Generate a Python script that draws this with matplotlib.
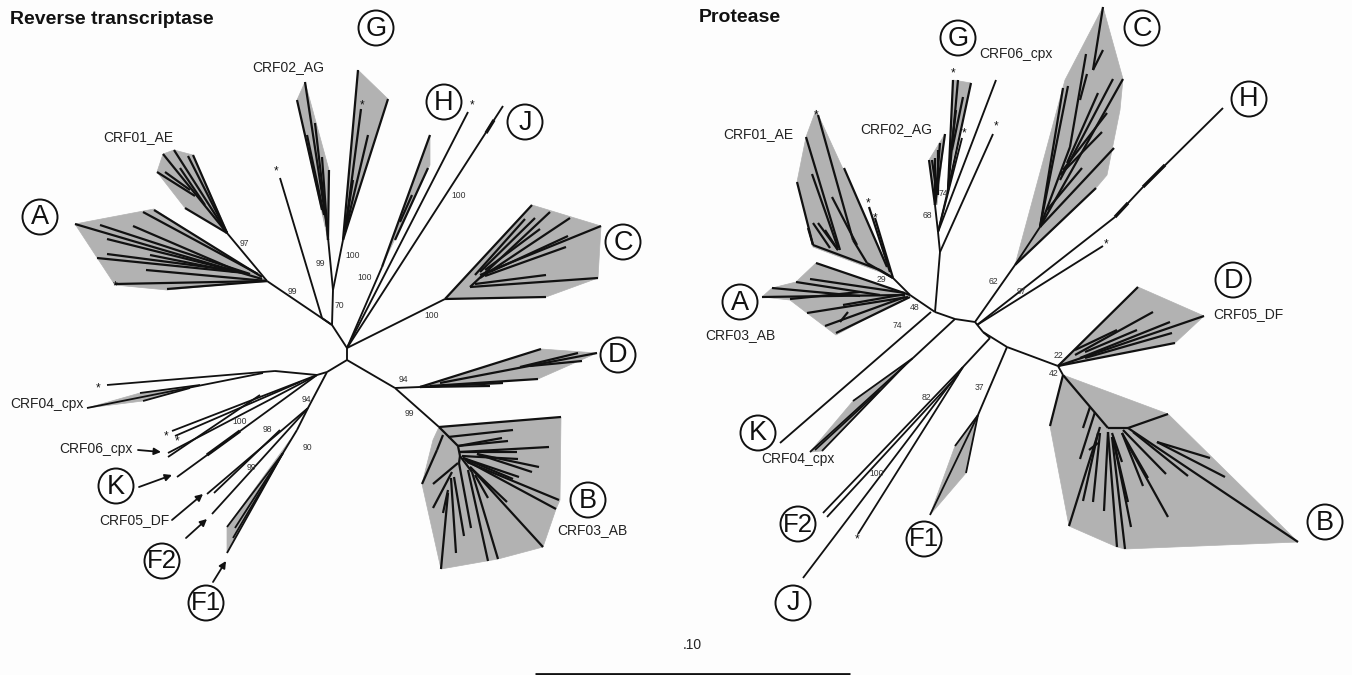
import matplotlib
matplotlib.use('Agg')
import matplotlib.pyplot as plt
from matplotlib.patches import Circle

plt.rcParams['font.family'] = ['Liberation Sans', 'DejaVu Sans']

SHADE = '#b2b2b2'
INK = '#111111'

# ---- Reverse transcriptase ----
rt_stems = [(347, 348, 347, 360), (347, 348, 332, 325), (332, 325, 267, 281), (267, 281, 227, 233),
            (332, 325, 333, 290), (333, 290, 327, 227), (333, 290, 343, 240), (322, 318, 280, 178),
            (332, 325, 322, 318), (347, 348, 382, 267), (347, 348, 468, 112), (347, 348, 503, 106),
            (347, 348, 445, 299), (347, 360, 395, 388), (395, 388, 439, 427), (395, 388, 420, 387),
            (347, 360, 327, 372), (327, 372, 317, 375), (317, 375, 275, 371), (327, 372, 308, 408),
            (308, 408, 297, 430), (297, 430, 283, 453)]
rt_thick = [(494, 120, 486, 133)]
rt_a = [(262, 279, 75, 224), (250, 274, 100, 225), (235, 271, 107, 239), (240, 272, 133, 226),
        (258, 274, 143, 212), (262, 277, 154, 210), (245, 273, 97, 258), (230, 270, 107, 254),
        (235, 272, 150, 255), (267, 281, 146, 270), (267, 281, 115, 284), (267, 281, 167, 289)]
rt_crf01 = [(227, 233, 163, 154), (227, 233, 174, 150), (227, 233, 193, 155), (227, 233, 188, 156),
            (195, 196, 157, 172), (190, 190, 165, 172), (205, 205, 180, 168), (227, 233, 185, 208)]
rt_crf02 = [(327, 227, 305, 82), (322, 210, 297, 100), (327, 227, 315, 123), (324, 215, 307, 135),
            (328, 240, 322, 157), (328, 240, 329, 170)]
rt_g = [(343, 240, 358, 70), (343, 240, 388, 99), (345, 232, 361, 109), (346, 228, 368, 135),
        (345, 230, 353, 180)]
rt_h = [(382, 267, 430, 135), (395, 240, 428, 168), (400, 222, 412, 195)]
rt_c = [(445, 299, 532, 205), (470, 287, 550, 212), (480, 278, 570, 218), (480, 275, 601, 226),
        (490, 272, 568, 236), (485, 276, 566, 247), (470, 287, 598, 278), (475, 284, 546, 275),
        (445, 299, 546, 297), (475, 275, 525, 219), (480, 272, 535, 218), (485, 270, 540, 229)]
rt_d = [(420, 387, 541, 349), (440, 383, 597, 353), (520, 367, 578, 353), (530, 366, 582, 361),
        (430, 386, 538, 379), (420, 387, 503, 383), (420, 387, 490, 386)]
rt_b = [(439, 427, 561, 417), (439, 427, 458, 446), (458, 446, 460, 456), (448, 437, 513, 430),
        (458, 446, 508, 441), (458, 446, 502, 438), (460, 452, 549, 447), (460, 452, 517, 452),
        (462, 456, 518, 459), (477, 454, 539, 467), (477, 454, 532, 472), (463, 458, 519, 477),
        (463, 458, 513, 479), (467, 462, 559, 500), (465, 460, 556, 509), (470, 467, 543, 547),
        (470, 467, 507, 502), (472, 472, 498, 559), (468, 470, 488, 561), (475, 475, 488, 498),
        (459, 463, 471, 528), (454, 477, 464, 536), (451, 478, 456, 553), (448, 493, 441, 569),
        (448, 490, 443, 513), (452, 472, 433, 508), (458, 463, 433, 484), (443, 435, 437, 450),
        (437, 450, 422, 484), (460, 456, 459, 463), (460, 456, 472, 472)]
rt_left = [(275, 371, 107, 385), (263, 373, 87, 408), (200, 385, 140, 393), (190, 388, 143, 401),
           (317, 375, 172, 431), (300, 382, 175, 436), (317, 375, 168, 453), (260, 395, 168, 457),
           (317, 375, 177, 477), (308, 408, 207, 494), (280, 430, 214, 493), (308, 408, 212, 514),
           (283, 453, 227, 527), (283, 453, 227, 553), (283, 453, 235, 528), (283, 453, 233, 538)]
rt_k_thick = [(240, 431, 207, 455)]

rt_shade_a = [(75, 224), (154, 209), (267, 281), (167, 290), (115, 285)]
rt_shade_crf01 = [(163, 154), (174, 150), (193, 155), (228, 233), (185, 208), (157, 172)]
rt_shade_crf02 = [(305, 82), (329, 170), (328, 240), (297, 100)]
rt_shade_g = [(358, 70), (388, 99), (343, 240)]
rt_shade_h = [(430, 135), (430, 165), (385, 260)]
rt_shade_c = [(532, 205), (601, 226), (598, 278), (546, 297), (445, 299)]
rt_shade_d = [(541, 349), (597, 353), (538, 379), (420, 387)]
rt_shade_b = [(439, 427), (561, 417), (560, 500), (556, 509), (543, 547), (498, 559), (441, 569),
              (422, 484), (433, 440)]
rt_shade_crf04 = [(87, 408), (140, 393), (200, 385), (143, 401)]
rt_shade_f1 = [(227, 527), (227, 553), (290, 440)]

# ---- Protease ----
pr_stems = [(910, 295, 935, 312), (935, 312, 955, 319), (955, 319, 975, 322), (975, 322, 983, 332),
            (983, 332, 1007, 347), (1007, 347, 1058, 366), (1058, 366, 1063, 375), (893, 278, 910, 295),
            (935, 312, 940, 252), (940, 252, 938, 232), (938, 232, 935, 205), (940, 252, 993, 134),
            (938, 232, 996, 80), (938, 232, 962, 138), (938, 232, 948, 190), (931, 312, 780, 443),
            (955, 319, 913, 358), (975, 322, 1015, 265), (1015, 265, 1040, 227), (977, 325, 1115, 217),
            (1115, 217, 1143, 187), (1143, 187, 1223, 108), (977, 325, 1103, 246), (983, 332, 990, 338),
            (990, 338, 963, 367), (1007, 347, 978, 415)]
pr_thick = [(1165, 165, 1143, 187), (1128, 203, 1115, 217)]
pr_crf01 = [(818, 115, 853, 240), (853, 240, 867, 263), (806, 137, 840, 250), (797, 182, 813, 245),
            (812, 174, 838, 248), (832, 197, 857, 245), (844, 168, 887, 267), (869, 207, 890, 272),
            (875, 218, 893, 278), (813, 223, 830, 248), (818, 223, 838, 250), (825, 230, 838, 250),
            (808, 228, 813, 245), (813, 245, 880, 270), (867, 263, 893, 278), (880, 270, 893, 278)]
pr_a = [(816, 263, 910, 295), (810, 279, 905, 293), (796, 282, 880, 295), (772, 288, 860, 296),
        (762, 297, 905, 295), (790, 299, 860, 292), (807, 313, 908, 297), (825, 326, 905, 297),
        (836, 333, 910, 297), (843, 305, 900, 295), (840, 322, 848, 312)]
pr_crf04 = [(913, 358, 810, 452), (905, 365, 822, 451), (913, 358, 853, 401), (880, 390, 815, 450)]
pr_crf02 = [(935, 205, 929, 160), (935, 205, 935, 158), (935, 205, 940, 143), (935, 205, 945, 134),
            (937, 195, 932, 160), (938, 195, 938, 150)]
pr_g = [(948, 190, 953, 80), (948, 190, 958, 80), (948, 190, 971, 83), (952, 150, 963, 97),
        (950, 160, 956, 110)]
pr_c = [(1040, 227, 1063, 88), (1040, 227, 1068, 86), (1040, 227, 1070, 147), (1070, 147, 1086, 54),
        (1103, 7, 1093, 70), (1103, 50, 1093, 70), (1087, 74, 1080, 100), (1060, 180, 1113, 79),
        (1040, 227, 1123, 79), (1067, 163, 1098, 93), (1063, 170, 1107, 113), (1060, 175, 1102, 132),
        (1047, 210, 1082, 168), (1040, 227, 1114, 148), (1015, 265, 1096, 188)]
pr_d = [(1058, 366, 1138, 287), (1058, 366, 1204, 316), (1075, 355, 1153, 312), (1080, 358, 1170, 322),
        (1085, 358, 1172, 333), (1058, 366, 1175, 343), (1075, 350, 1117, 330), (1085, 352, 1137, 330)]
pr_b = [(1063, 375, 1108, 428), (1108, 428, 1128, 428), (1128, 428, 1168, 414), (1063, 375, 1050, 426),
        (1128, 428, 1298, 542), (1157, 442, 1225, 477), (1157, 442, 1210, 458), (1133, 432, 1188, 476),
        (1123, 430, 1166, 474), (1122, 433, 1148, 478), (1122, 433, 1143, 486), (1127, 443, 1168, 517),
        (1108, 432, 1117, 547), (1112, 437, 1125, 549), (1113, 437, 1131, 527), (1115, 447, 1128, 502),
        (1112, 433, 1122, 462), (1108, 432, 1104, 511), (1100, 427, 1069, 526), (1098, 433, 1083, 501),
        (1100, 433, 1093, 502), (1095, 412, 1080, 459), (1090, 407, 1083, 428), (1098, 443, 1089, 450)]
pr_f2j = [(963, 367, 823, 513), (958, 375, 827, 517), (963, 367, 803, 578), (963, 367, 858, 534)]
pr_f1 = [(978, 415, 930, 515), (978, 415, 966, 473), (978, 415, 955, 446)]

pr_shade_crf01 = [(816, 110), (893, 278), (880, 272), (813, 247), (797, 182), (806, 137)]
pr_shade_a = [(816, 263), (910, 295), (836, 335), (807, 313), (790, 300), (762, 297), (772, 288), (796, 282)]
pr_shade_crf02 = [(929, 160), (945, 134), (937, 205)]
pr_shade_g = [(953, 80), (971, 83), (950, 170)]
pr_shade_c = [(1103, 7), (1123, 79), (1120, 110), (1107, 175), (1096, 188), (1015, 265), (1065, 80)]
pr_shade_d = [(1138, 287), (1204, 316), (1175, 343), (1058, 366)]
pr_shade_b = [(1063, 375), (1168, 414), (1298, 542), (1125, 549), (1117, 547), (1069, 526), (1050, 426)]
pr_shade_crf04 = [(853, 401), (810, 452), (822, 451), (913, 358)]
pr_shade_f1 = [(978, 415), (966, 473), (930, 515), (955, 446)]

# circled subtype letters, (label, x, y)
circled = [('A', 40, 217), ('G', 376, 28), ('H', 444, 102), ('J', 525, 122), ('C', 623, 242),
           ('D', 618, 355), ('B', 588, 500), ('K', 116, 486), ('F2', 162, 561), ('F1', 206, 603),
           ('A', 740, 302), ('G', 958, 38), ('C', 1142, 28), ('H', 1249, 99), ('D', 1233, 280),
           ('B', 1325, 522), ('K', 758, 433), ('F2', 798, 524), ('F1', 924, 539), ('J', 793, 603)]
# recombinant form names
crf_labels = [('CRF02_AG', 288, 67), ('CRF01_AE', 138, 137), ('CRF04_cpx', 47, 404), ('CRF06_cpx', 96, 449),
              ('CRF05_DF', 134, 520), ('CRF03_AB', 592, 530), ('CRF06_cpx', 1016, 54), ('CRF02_AG', 896, 129),
              ('CRF01_AE', 758, 134), ('CRF03_AB', 740, 335), ('CRF05_DF', 1248, 314), ('CRF04_cpx', 798, 459)]
# bootstrap values
boot_labels = [('97', 244, 243), ('99', 292, 291), ('99', 320, 263), ('70', 339, 305), ('100', 353, 256),
               ('100', 365, 278), ('100', 459, 195), ('100', 432, 315), ('94', 403, 379), ('99', 409, 413),
               ('94', 306, 400), ('100', 240, 422), ('98', 267, 429), ('99', 251, 467), ('90', 307, 447),
               ('74', 943, 193), ('68', 927, 216), ('29', 881, 280), ('48', 915, 308), ('74', 897, 325),
               ('62', 993, 282), ('97', 1021, 291), ('22', 1058, 355), ('42', 1054, 373), ('82', 926, 397),
               ('37', 979, 388), ('100', 877, 473)]
stars = [(276, 169), (362, 103), (472, 103), (98, 386), (166, 434), (177, 439), (115, 284),
         (953, 71), (964, 131), (996, 124), (868, 201), (875, 216), (816, 113), (857, 537), (1106, 242)]
arrows = [(138, 450, 161, 452), (139, 487, 172, 475), (172, 520, 203, 494), (186, 538, 207, 519),
          (213, 582, 226, 561)]
scale_bar = (535, 850)

fig = plt.figure(figsize=(13.52, 6.75), dpi=100, facecolor='#fdfdfd')
ax = fig.add_axes([0, 0, 1, 1])
ax.set_xlim(0, 1352)
ax.set_ylim(675, 0)
ax.axis('off')

# Shaded clades go underneath the branches
shades = [rt_shade_a, rt_shade_crf01, rt_shade_crf02, rt_shade_g, rt_shade_h, rt_shade_c, rt_shade_d,
          rt_shade_b, rt_shade_crf04, rt_shade_f1, pr_shade_crf01, pr_shade_a, pr_shade_crf02, pr_shade_g,
          pr_shade_c, pr_shade_d, pr_shade_b, pr_shade_crf04, pr_shade_f1]
for poly in shades:
    ax.fill([p[0] for p in poly], [p[1] for p in poly], color=SHADE, lw=0.5, zorder=1)


def draw_branches(segs, lw):
    for x0, y0, x1, y1 in segs:
        ax.plot([x0, x1], [y0, y1], color=INK, lw=lw, solid_capstyle='butt', zorder=2)


draw_branches(rt_stems + pr_stems, 1.35)
for group in [rt_a, rt_crf01, rt_crf02, rt_g, rt_h, rt_c, rt_d, rt_b, pr_crf01, pr_a, pr_c, pr_d, pr_b,
              pr_crf02, pr_g]:
    draw_branches(group, 1.6)
for group in [rt_left, pr_crf04, pr_f2j, pr_f1]:
    draw_branches(group, 1.3)
draw_branches(rt_thick + pr_thick + rt_k_thick, 2.4)

for label, x, y in circled:
    ax.add_patch(Circle((x, y), 17.5, fc='white', ec=INK, lw=1.4, zorder=3))
    ax.text(x, y + 0.5, label, ha='center', va='center', fontsize=18.5 if len(label) > 1 else 19.5,
            color=INK, zorder=4)
for label, x, y in crf_labels:
    ax.text(x, y, label, ha='center', va='center', fontsize=10, color='#222222', zorder=4)
for label, x, y in boot_labels:
    ax.text(x, y, label, ha='center', va='center', fontsize=6.2, color='#333333', zorder=4)
for x, y in stars:
    ax.text(x, y + 2, '*', ha='center', va='center', fontsize=8.5, color=INK, zorder=4)
for x0, y0, x1, y1 in arrows:
    ax.annotate('', xy=(x1, y1), xytext=(x0, y0),
                arrowprops=dict(arrowstyle='-|>', color=INK, lw=1.3, mutation_scale=10, shrinkA=0, shrinkB=0))

ax.text(10, 19, 'Reverse transcriptase', ha='left', va='center', fontsize=14, fontweight='bold', color='#111111')
ax.text(699, 18, 'Protease', ha='left', va='center', fontsize=14, fontweight='bold', color='#111111')
ax.text(692, 645, '.10', ha='center', va='center', fontsize=10, color='#222222')
ax.plot(scale_bar, [674, 674], color=INK, lw=2, solid_capstyle='butt')

fig.savefig('out.png', dpi=100, facecolor=fig.get_facecolor())
